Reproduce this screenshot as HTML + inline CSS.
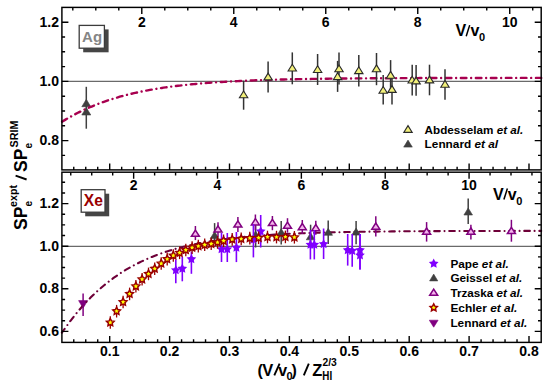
<!DOCTYPE html>
<html><head><meta charset="utf-8"><style>
html,body{margin:0;padding:0;background:#fff;width:550px;height:388px;overflow:hidden}
svg{display:block}
text{font-family:"Liberation Sans",sans-serif}
</style></head><body>
<svg width="550" height="388" viewBox="0 0 550 388"><line x1="61.9" y1="81.4" x2="541.2" y2="81.4" stroke="#6a6a6a" stroke-width="1.2"/>
<line x1="61.9" y1="246.4" x2="541.2" y2="246.4" stroke="#6a6a6a" stroke-width="1.2"/>
<path d="M86.3,99.3 L90.8,106.7 L81.8,106.7 Z" fill="#404040" stroke="#404040" stroke-width="0.6" stroke-linejoin="miter"/>
<path d="M86.3,107.6 L90.8,115 L81.8,115 Z" fill="#404040" stroke="#404040" stroke-width="0.6" stroke-linejoin="miter"/>
<path d="M83.1,308.2 L87.6,300.6 L78.6,300.6 Z" fill="#800080" stroke="#800080" stroke-width="0.6"/>
<path id="ctop" d="M61.9,121.76 C62.57,121.36 64.57,120.14 65.9,119.36 C67.23,118.58 68.57,117.81 69.9,117.07 C71.23,116.32 72.57,115.59 73.9,114.88 C75.23,114.17 76.57,113.48 77.9,112.8 C79.23,112.13 80.57,111.47 81.9,110.83 C83.23,110.2 84.57,109.58 85.9,108.97 C87.23,108.37 88.57,107.78 89.9,107.21 C91.23,106.63 92.57,106.08 93.9,105.54 C95.23,105 96.57,104.47 97.9,103.96 C99.23,103.45 100.57,102.96 101.9,102.47 C103.23,101.99 104.57,101.52 105.9,101.06 C107.23,100.61 108.57,100.17 109.9,99.74 C111.23,99.3 112.57,98.89 113.9,98.48 C115.23,98.07 116.57,97.68 117.9,97.3 C119.23,96.91 120.57,96.54 121.9,96.18 C123.23,95.82 124.57,95.46 125.9,95.12 C127.23,94.78 128.57,94.45 129.9,94.13 C131.23,93.81 132.57,93.49 133.9,93.19 C135.23,92.88 136.57,92.59 137.9,92.3 C139.23,92.02 140.57,91.74 141.9,91.47 C143.23,91.2 144.57,90.94 145.9,90.68 C147.23,90.43 148.57,90.18 149.9,89.94 C151.23,89.7 152.57,89.46 153.9,89.24 C155.23,89.01 156.57,88.79 157.9,88.58 C159.23,88.36 160.57,88.16 161.9,87.96 C163.23,87.75 164.57,87.56 165.9,87.37 C167.23,87.18 168.57,86.99 169.9,86.82 C171.23,86.64 172.57,86.46 173.9,86.29 C175.23,86.13 176.57,85.96 177.9,85.8 C179.23,85.64 180.57,85.49 181.9,85.34 C183.23,85.19 184.57,85.05 185.9,84.91 C187.23,84.76 188.57,84.63 189.9,84.49 C191.23,84.36 192.57,84.23 193.9,84.11 C195.23,83.98 196.57,83.86 197.9,83.74 C199.23,83.62 200.57,83.51 201.9,83.4 C203.23,83.29 204.57,83.18 205.9,83.08 C207.23,82.97 208.57,82.87 209.9,82.77 C211.23,82.67 212.57,82.58 213.9,82.48 C215.23,82.39 216.57,82.3 217.9,82.21 C219.23,82.13 220.57,82.04 221.9,81.96 C223.23,81.88 224.57,81.8 225.9,81.72 C227.23,81.64 228.57,81.57 229.9,81.49 C231.23,81.42 232.57,81.35 233.9,81.28 C235.23,81.21 236.57,81.14 237.9,81.08 C239.23,81.02 240.57,80.95 241.9,80.89 C243.23,80.83 244.57,80.77 245.9,80.71 C247.23,80.66 248.57,80.6 249.9,80.55 C251.23,80.49 252.57,80.44 253.9,80.39 C255.23,80.34 256.57,80.29 257.9,80.24 C259.23,80.19 260.57,80.15 261.9,80.1 C263.23,80.06 264.57,80.01 265.9,79.97 C267.23,79.93 268.57,79.89 269.9,79.85 C271.23,79.81 272.57,79.77 273.9,79.73 C275.23,79.69 276.57,79.66 277.9,79.62 C279.23,79.58 280.57,79.55 281.9,79.52 C283.23,79.48 284.57,79.45 285.9,79.42 C287.23,79.39 288.57,79.36 289.9,79.33 C291.23,79.3 292.57,79.27 293.9,79.24 C295.23,79.21 296.57,79.19 297.9,79.16 C299.23,79.13 300.57,79.11 301.9,79.08 C303.23,79.06 304.57,79.04 305.9,79.01 C307.23,78.99 308.57,78.97 309.9,78.95 C311.23,78.92 312.57,78.9 313.9,78.88 C315.23,78.86 316.57,78.84 317.9,78.82 C319.23,78.8 320.57,78.78 321.9,78.77 C323.23,78.75 324.57,78.73 325.9,78.71 C327.23,78.7 328.57,78.68 329.9,78.66 C331.23,78.65 332.57,78.63 333.9,78.62 C335.23,78.6 336.57,78.59 337.9,78.57 C339.23,78.56 340.57,78.54 341.9,78.53 C343.23,78.52 344.57,78.5 345.9,78.49 C347.23,78.48 348.57,78.47 349.9,78.45 C351.23,78.44 352.57,78.43 353.9,78.42 C355.23,78.41 356.57,78.4 357.9,78.39 C359.23,78.38 360.57,78.37 361.9,78.36 C363.23,78.35 364.57,78.34 365.9,78.33 C367.23,78.32 368.57,78.31 369.9,78.3 C371.23,78.29 372.57,78.28 373.9,78.28 C375.23,78.27 376.57,78.26 377.9,78.25 C379.23,78.24 380.57,78.24 381.9,78.23 C383.23,78.22 384.57,78.21 385.9,78.21 C387.23,78.2 388.57,78.19 389.9,78.19 C391.23,78.18 392.57,78.17 393.9,78.17 C395.23,78.16 396.57,78.16 397.9,78.15 C399.23,78.15 400.57,78.14 401.9,78.13 C403.23,78.13 404.57,78.12 405.9,78.12 C407.23,78.11 408.57,78.11 409.9,78.1 C411.23,78.1 412.57,78.09 413.9,78.09 C415.23,78.09 416.57,78.08 417.9,78.08 C419.23,78.07 420.57,78.07 421.9,78.06 C423.23,78.06 424.57,78.06 425.9,78.05 C427.23,78.05 428.57,78.05 429.9,78.04 C431.23,78.04 432.57,78.04 433.9,78.03 C435.23,78.03 436.57,78.03 437.9,78.02 C439.23,78.02 440.57,78.02 441.9,78.01 C443.23,78.01 444.57,78.01 445.9,78 C447.23,78 448.57,78 449.9,78 C451.23,77.99 452.57,77.99 453.9,77.99 C455.23,77.99 456.57,77.98 457.9,77.98 C459.23,77.98 460.57,77.98 461.9,77.98 C463.23,77.97 464.57,77.97 465.9,77.97 C467.23,77.97 468.57,77.97 469.9,77.96 C471.23,77.96 472.57,77.96 473.9,77.96 C475.23,77.96 476.57,77.95 477.9,77.95 C479.23,77.95 480.57,77.95 481.9,77.95 C483.23,77.95 484.57,77.94 485.9,77.94 C487.23,77.94 488.57,77.94 489.9,77.94 C491.23,77.94 492.57,77.94 493.9,77.93 C495.23,77.93 496.57,77.93 497.9,77.93 C499.23,77.93 500.57,77.93 501.9,77.93 C503.23,77.93 504.57,77.93 505.9,77.92 C507.23,77.92 508.57,77.92 509.9,77.92 C511.23,77.92 512.57,77.92 513.9,77.92 C515.23,77.92 516.57,77.92 517.9,77.92 C519.23,77.91 520.57,77.91 521.9,77.91 C523.23,77.91 524.57,77.91 525.9,77.91 C527.23,77.91 528.57,77.91 529.9,77.91 C531.23,77.91 532.57,77.91 533.9,77.91 C535.23,77.9 536.68,77.9 537.9,77.9 C539.12,77.9 540.65,77.9 541.2,77.9" fill="none" stroke="#a8004f" stroke-width="2.4" stroke-linecap="round" stroke-dasharray="5.6 4.7 0.01 4.7" stroke-dashoffset="14.65"/>
<path id="cbot" d="M61.9,332.65 C62.4,331.94 63.9,329.82 64.9,328.43 C65.9,327.05 66.9,325.67 67.9,324.32 C68.9,322.97 69.9,321.64 70.9,320.33 C71.9,319.02 72.9,317.74 73.9,316.48 C74.9,315.22 75.9,313.99 76.9,312.78 C77.9,311.56 78.9,310.38 79.9,309.21 C80.9,308.05 81.9,306.91 82.9,305.79 C83.9,304.67 84.9,303.57 85.9,302.5 C86.9,301.43 87.9,300.38 88.9,299.35 C89.9,298.32 90.9,297.31 91.9,296.32 C92.9,295.34 93.9,294.37 94.9,293.43 C95.9,292.48 96.9,291.56 97.9,290.65 C98.9,289.74 99.9,288.86 100.9,287.99 C101.9,287.12 102.9,286.27 103.9,285.44 C104.9,284.61 105.9,283.8 106.9,283.01 C107.9,282.21 108.9,281.43 109.9,280.67 C110.9,279.91 111.9,279.17 112.9,278.44 C113.9,277.71 114.9,277 115.9,276.3 C116.9,275.61 117.9,274.93 118.9,274.26 C119.9,273.59 120.9,272.94 121.9,272.3 C122.9,271.67 123.9,271.04 124.9,270.44 C125.9,269.83 126.9,269.23 127.9,268.65 C128.9,268.07 129.9,267.5 130.9,266.94 C131.9,266.38 132.9,265.84 133.9,265.31 C134.9,264.77 135.9,264.25 136.9,263.74 C137.9,263.24 138.9,262.74 139.9,262.25 C140.9,261.77 141.9,261.29 142.9,260.83 C143.9,260.36 144.9,259.91 145.9,259.46 C146.9,259.02 147.9,258.59 148.9,258.16 C149.9,257.74 150.9,257.32 151.9,256.92 C152.9,256.51 153.9,256.12 154.9,255.73 C155.9,255.34 156.9,254.96 157.9,254.59 C158.9,254.22 159.9,253.86 160.9,253.51 C161.9,253.15 162.9,252.81 163.9,252.47 C164.9,252.13 165.9,251.8 166.9,251.48 C167.9,251.16 168.9,250.85 169.9,250.54 C170.9,250.23 171.9,249.93 172.9,249.64 C173.9,249.34 174.9,249.05 175.9,248.77 C176.9,248.49 177.9,248.22 178.9,247.95 C179.9,247.68 180.9,247.42 181.9,247.17 C182.9,246.91 183.9,246.66 184.9,246.42 C185.9,246.17 186.9,245.93 187.9,245.7 C188.9,245.47 189.9,245.24 190.9,245.02 C191.9,244.79 192.9,244.58 193.9,244.36 C194.9,244.15 195.9,243.94 196.9,243.74 C197.9,243.54 198.9,243.34 199.9,243.15 C200.9,242.95 201.9,242.76 202.9,242.58 C203.9,242.39 204.9,242.21 205.9,242.04 C206.9,241.86 207.9,241.69 208.9,241.52 C209.9,241.35 210.9,241.19 211.9,241.03 C212.9,240.87 213.9,240.71 214.9,240.56 C215.9,240.4 216.9,240.25 217.9,240.11 C218.9,239.96 219.9,239.82 220.9,239.68 C221.9,239.54 222.9,239.4 223.9,239.27 C224.9,239.13 225.9,239 226.9,238.88 C227.9,238.75 228.9,238.63 229.9,238.51 C230.9,238.38 231.9,238.27 232.9,238.15 C233.9,238.03 234.9,237.92 235.9,237.81 C236.9,237.7 237.9,237.59 238.9,237.49 C239.9,237.38 240.9,237.28 241.9,237.18 C242.9,237.08 243.9,236.98 244.9,236.88 C245.9,236.79 246.9,236.7 247.9,236.6 C248.9,236.51 249.9,236.42 250.9,236.34 C251.9,236.25 252.9,236.16 253.9,236.08 C254.9,236 255.9,235.92 256.9,235.84 C257.9,235.76 258.9,235.68 259.9,235.6 C260.9,235.53 261.9,235.45 262.9,235.38 C263.9,235.31 264.9,235.24 265.9,235.17 C266.9,235.1 267.9,235.03 268.9,234.97 C269.9,234.9 270.9,234.84 271.9,234.78 C272.9,234.71 273.9,234.65 274.9,234.59 C275.9,234.53 276.9,234.48 277.9,234.42 C278.9,234.36 279.9,234.31 280.9,234.25 C281.9,234.2 282.9,234.14 283.9,234.09 C284.9,234.04 285.9,233.99 286.9,233.94 C287.9,233.89 288.9,233.84 289.9,233.8 C290.9,233.75 291.9,233.7 292.9,233.66 C293.9,233.61 294.9,233.57 295.9,233.53 C296.9,233.48 297.9,233.44 298.9,233.4 C299.9,233.36 300.9,233.32 301.9,233.28 C302.9,233.24 303.9,233.2 304.9,233.17 C305.9,233.13 306.9,233.09 307.9,233.06 C308.9,233.02 309.9,232.99 310.9,232.95 C311.9,232.92 312.9,232.89 313.9,232.86 C314.9,232.82 315.9,232.79 316.9,232.76 C317.9,232.73 318.9,232.7 319.9,232.67 C320.9,232.64 321.9,232.61 322.9,232.59 C323.9,232.56 324.9,232.53 325.9,232.5 C326.9,232.48 327.9,232.45 328.9,232.43 C329.9,232.4 330.9,232.38 331.9,232.35 C332.9,232.33 333.9,232.3 334.9,232.28 C335.9,232.26 336.9,232.24 337.9,232.21 C338.9,232.19 339.9,232.17 340.9,232.15 C341.9,232.13 342.9,232.11 343.9,232.09 C344.9,232.07 345.9,232.05 346.9,232.03 C347.9,232.01 348.9,231.99 349.9,231.97 C350.9,231.96 351.9,231.94 352.9,231.92 C353.9,231.9 354.9,231.89 355.9,231.87 C356.9,231.85 357.9,231.84 358.9,231.82 C359.9,231.81 360.9,231.79 361.9,231.78 C362.9,231.76 363.9,231.75 364.9,231.73 C365.9,231.72 366.9,231.7 367.9,231.69 C368.9,231.68 369.9,231.66 370.9,231.65 C371.9,231.64 372.9,231.62 373.9,231.61 C374.9,231.6 375.9,231.59 376.9,231.58 C377.9,231.56 378.9,231.55 379.9,231.54 C380.9,231.53 381.9,231.52 382.9,231.51 C383.9,231.5 384.9,231.49 385.9,231.48 C386.9,231.47 387.9,231.46 388.9,231.45 C389.9,231.44 390.9,231.43 391.9,231.42 C392.9,231.41 393.9,231.4 394.9,231.39 C395.9,231.38 396.9,231.38 397.9,231.37 C398.9,231.36 399.9,231.35 400.9,231.34 C401.9,231.33 402.9,231.33 403.9,231.32 C404.9,231.31 405.9,231.3 406.9,231.3 C407.9,231.29 408.9,231.28 409.9,231.28 C410.9,231.27 411.9,231.26 412.9,231.25 C413.9,231.25 414.9,231.24 415.9,231.24 C416.9,231.23 417.9,231.22 418.9,231.22 C419.9,231.21 420.9,231.21 421.9,231.2 C422.9,231.19 423.9,231.19 424.9,231.18 C425.9,231.18 426.9,231.17 427.9,231.17 C428.9,231.16 429.9,231.16 430.9,231.15 C431.9,231.15 432.9,231.14 433.9,231.14 C434.9,231.13 435.9,231.13 436.9,231.12 C437.9,231.12 438.9,231.11 439.9,231.11 C440.9,231.11 441.9,231.1 442.9,231.1 C443.9,231.09 444.9,231.09 445.9,231.09 C446.9,231.08 447.9,231.08 448.9,231.07 C449.9,231.07 450.9,231.07 451.9,231.06 C452.9,231.06 453.9,231.06 454.9,231.05 C455.9,231.05 456.9,231.05 457.9,231.04 C458.9,231.04 459.9,231.04 460.9,231.03 C461.9,231.03 462.9,231.03 463.9,231.03 C464.9,231.02 465.9,231.02 466.9,231.02 C467.9,231.01 468.9,231.01 469.9,231.01 C470.9,231.01 471.9,231 472.9,231 C473.9,231 474.9,231 475.9,230.99 C476.9,230.99 477.9,230.99 478.9,230.99 C479.9,230.98 480.9,230.98 481.9,230.98 C482.9,230.98 483.9,230.98 484.9,230.97 C485.9,230.97 486.9,230.97 487.9,230.97 C488.9,230.97 489.9,230.96 490.9,230.96 C491.9,230.96 492.9,230.96 493.9,230.96 C494.9,230.95 495.9,230.95 496.9,230.95 C497.9,230.95 498.9,230.95 499.9,230.95 C500.9,230.94 501.9,230.94 502.9,230.94 C503.9,230.94 504.9,230.94 505.9,230.94 C506.9,230.94 507.9,230.93 508.9,230.93 C509.9,230.93 510.9,230.93 511.9,230.93 C512.9,230.93 513.9,230.93 514.9,230.92 C515.9,230.92 516.9,230.92 517.9,230.92 C518.9,230.92 519.9,230.92 520.9,230.92 C521.9,230.92 522.9,230.92 523.9,230.91 C524.9,230.91 525.9,230.91 526.9,230.91 C527.9,230.91 528.9,230.91 529.9,230.91 C530.9,230.91 531.9,230.91 532.9,230.9 C533.9,230.9 534.9,230.9 535.9,230.9 C536.9,230.9 538.02,230.9 538.9,230.9 C539.78,230.9 540.82,230.9 541.2,230.9" fill="none" stroke="#6e0038" stroke-width="2.1" stroke-linecap="round" stroke-dasharray="5.6 4.7 0.01 4.7" stroke-dashoffset="0.9"/>
<line x1="86.3" y1="86.8" x2="86.3" y2="128.7" stroke="#404040" stroke-width="1.5"/>
<line x1="83.1" y1="293.5" x2="83.1" y2="316" stroke="#800080" stroke-width="1.5"/>
<line x1="243.6" y1="80.6" x2="243.6" y2="109.7" stroke="#333" stroke-width="1.5"/>
<line x1="268.1" y1="61.6" x2="268.1" y2="92.6" stroke="#333" stroke-width="1.5"/>
<line x1="292.3" y1="52.4" x2="292.3" y2="84.3" stroke="#333" stroke-width="1.5"/>
<line x1="317.6" y1="54" x2="317.6" y2="85" stroke="#333" stroke-width="1.5"/>
<line x1="337.6" y1="60.9" x2="337.6" y2="91.9" stroke="#333" stroke-width="1.5"/>
<line x1="339" y1="52.5" x2="339" y2="84.4" stroke="#333" stroke-width="1.5"/>
<line x1="358.8" y1="55" x2="358.8" y2="86.5" stroke="#333" stroke-width="1.5"/>
<line x1="376.5" y1="53" x2="376.5" y2="85.2" stroke="#333" stroke-width="1.5"/>
<line x1="383.2" y1="75.1" x2="383.2" y2="104.6" stroke="#333" stroke-width="1.5"/>
<line x1="390.6" y1="60.1" x2="390.6" y2="89.5" stroke="#333" stroke-width="1.5"/>
<line x1="392" y1="75" x2="392" y2="104.5" stroke="#333" stroke-width="1.5"/>
<line x1="412.2" y1="64.7" x2="412.2" y2="95.5" stroke="#333" stroke-width="1.5"/>
<line x1="416.1" y1="65" x2="416.1" y2="95.7" stroke="#333" stroke-width="1.5"/>
<line x1="429.5" y1="64.7" x2="429.5" y2="95.3" stroke="#333" stroke-width="1.5"/>
<line x1="445" y1="69.3" x2="445" y2="99.8" stroke="#333" stroke-width="1.5"/>
<path d="M243.6,91 L247.8,97.8 L239.4,97.8 Z" fill="#f2f07a" stroke="#2a2a2a" stroke-width="1.1" stroke-linejoin="miter"/>
<path d="M268.1,73.1 L272.3,79.9 L263.9,79.9 Z" fill="#f2f07a" stroke="#2a2a2a" stroke-width="1.1" stroke-linejoin="miter"/>
<path d="M292.3,64.2 L296.5,71 L288.1,71 Z" fill="#f2f07a" stroke="#2a2a2a" stroke-width="1.1" stroke-linejoin="miter"/>
<path d="M317.6,65.7 L321.8,72.5 L313.4,72.5 Z" fill="#f2f07a" stroke="#2a2a2a" stroke-width="1.1" stroke-linejoin="miter"/>
<path d="M337.6,72.8 L341.8,79.6 L333.4,79.6 Z" fill="#f2f07a" stroke="#2a2a2a" stroke-width="1.1" stroke-linejoin="miter"/>
<path d="M339,65 L343.2,71.8 L334.8,71.8 Z" fill="#f2f07a" stroke="#2a2a2a" stroke-width="1.1" stroke-linejoin="miter"/>
<path d="M358.8,66.8 L363,73.6 L354.6,73.6 Z" fill="#f2f07a" stroke="#2a2a2a" stroke-width="1.1" stroke-linejoin="miter"/>
<path d="M376.5,64.9 L380.7,71.7 L372.3,71.7 Z" fill="#f2f07a" stroke="#2a2a2a" stroke-width="1.1" stroke-linejoin="miter"/>
<path d="M383.2,86.5 L387.4,93.3 L379,93.3 Z" fill="#f2f07a" stroke="#2a2a2a" stroke-width="1.1" stroke-linejoin="miter"/>
<path d="M390.6,71.4 L394.8,78.2 L386.4,78.2 Z" fill="#f2f07a" stroke="#2a2a2a" stroke-width="1.1" stroke-linejoin="miter"/>
<path d="M392,85.6 L396.2,92.4 L387.8,92.4 Z" fill="#f2f07a" stroke="#2a2a2a" stroke-width="1.1" stroke-linejoin="miter"/>
<path d="M412.2,76.2 L416.4,83 L408,83 Z" fill="#f2f07a" stroke="#2a2a2a" stroke-width="1.1" stroke-linejoin="miter"/>
<path d="M416.1,77.1 L420.3,83.9 L411.9,83.9 Z" fill="#f2f07a" stroke="#2a2a2a" stroke-width="1.1" stroke-linejoin="miter"/>
<path d="M429.5,76.1 L433.7,82.9 L425.3,82.9 Z" fill="#f2f07a" stroke="#2a2a2a" stroke-width="1.1" stroke-linejoin="miter"/>
<path d="M445,80.5 L449.2,87.3 L440.8,87.3 Z" fill="#f2f07a" stroke="#2a2a2a" stroke-width="1.1" stroke-linejoin="miter"/>
<line x1="214.6" y1="223.1" x2="214.6" y2="243" stroke="#404040" stroke-width="1.5"/>
<path d="M214.6,231.5 L218.9,238.5 L210.3,238.5 Z" fill="#404040" stroke="#404040" stroke-width="0.6" stroke-linejoin="miter"/>
<line x1="255.6" y1="225.5" x2="255.6" y2="247.5" stroke="#404040" stroke-width="1.5"/>
<path d="M255.6,231 L259.9,238 L251.3,238 Z" fill="#404040" stroke="#404040" stroke-width="0.6" stroke-linejoin="miter"/>
<line x1="281.2" y1="221.1" x2="281.2" y2="244.4" stroke="#404040" stroke-width="1.5"/>
<path d="M281.2,228.6 L285.5,235.6 L276.9,235.6 Z" fill="#404040" stroke="#404040" stroke-width="0.6" stroke-linejoin="miter"/>
<line x1="310.6" y1="224.7" x2="310.6" y2="242.4" stroke="#404040" stroke-width="1.5"/>
<path d="M310.6,232.8 L314.9,239.8 L306.3,239.8 Z" fill="#404040" stroke="#404040" stroke-width="0.6" stroke-linejoin="miter"/>
<line x1="328.2" y1="220.6" x2="328.2" y2="244" stroke="#404040" stroke-width="1.5"/>
<path d="M328.2,228.3 L332.5,235.3 L323.9,235.3 Z" fill="#404040" stroke="#404040" stroke-width="0.6" stroke-linejoin="miter"/>
<line x1="356.1" y1="220.9" x2="356.1" y2="244.3" stroke="#404040" stroke-width="1.5"/>
<path d="M356.1,228.1 L360.4,235.1 L351.8,235.1 Z" fill="#404040" stroke="#404040" stroke-width="0.6" stroke-linejoin="miter"/>
<line x1="468.2" y1="198.5" x2="468.2" y2="224" stroke="#404040" stroke-width="1.5"/>
<path d="M468.2,208 L472.5,215 L463.9,215 Z" fill="#404040" stroke="#404040" stroke-width="0.6" stroke-linejoin="miter"/>
<line x1="195.4" y1="226" x2="195.4" y2="240.1" stroke="#800080" stroke-width="1.5"/>
<path d="M195.4,230.1 L199.4,236.3 L191.4,236.3 Z" fill="#f4b4ec" stroke="#800080" stroke-width="1.5" stroke-linejoin="miter"/>
<line x1="218" y1="222.2" x2="218" y2="237" stroke="#800080" stroke-width="1.5"/>
<path d="M218,225.9 L222,232.1 L214,232.1 Z" fill="#f4b4ec" stroke="#800080" stroke-width="1.5" stroke-linejoin="miter"/>
<line x1="237.9" y1="217" x2="237.9" y2="232" stroke="#800080" stroke-width="1.5"/>
<path d="M237.9,220.9 L241.9,227.1 L233.9,227.1 Z" fill="#f4b4ec" stroke="#800080" stroke-width="1.5" stroke-linejoin="miter"/>
<line x1="255.4" y1="214.5" x2="255.4" y2="230" stroke="#800080" stroke-width="1.5"/>
<path d="M255.4,218.7 L259.4,224.9 L251.4,224.9 Z" fill="#f4b4ec" stroke="#800080" stroke-width="1.5" stroke-linejoin="miter"/>
<line x1="272.4" y1="216" x2="272.4" y2="230.2" stroke="#800080" stroke-width="1.5"/>
<path d="M272.4,219.4 L276.4,225.6 L268.4,225.6 Z" fill="#f4b4ec" stroke="#800080" stroke-width="1.5" stroke-linejoin="miter"/>
<line x1="287.5" y1="218.2" x2="287.5" y2="232.7" stroke="#800080" stroke-width="1.5"/>
<path d="M287.5,222.1 L291.5,228.3 L283.5,228.3 Z" fill="#f4b4ec" stroke="#800080" stroke-width="1.5" stroke-linejoin="miter"/>
<line x1="302.3" y1="220" x2="302.3" y2="234" stroke="#800080" stroke-width="1.5"/>
<path d="M302.3,223.5 L306.3,229.7 L298.3,229.7 Z" fill="#f4b4ec" stroke="#800080" stroke-width="1.5" stroke-linejoin="miter"/>
<line x1="315.8" y1="220.8" x2="315.8" y2="234.7" stroke="#800080" stroke-width="1.5"/>
<path d="M315.8,224.5 L319.8,230.7 L311.8,230.7 Z" fill="#f4b4ec" stroke="#800080" stroke-width="1.5" stroke-linejoin="miter"/>
<line x1="375.8" y1="216.3" x2="375.8" y2="236.4" stroke="#800080" stroke-width="1.5"/>
<path d="M375.8,223 L379.8,229.2 L371.8,229.2 Z" fill="#f4b4ec" stroke="#800080" stroke-width="1.5" stroke-linejoin="miter"/>
<line x1="426.6" y1="222.1" x2="426.6" y2="241.6" stroke="#800080" stroke-width="1.5"/>
<path d="M426.6,228 L430.6,234.2 L422.6,234.2 Z" fill="#f4b4ec" stroke="#800080" stroke-width="1.5" stroke-linejoin="miter"/>
<line x1="470.9" y1="224.7" x2="470.9" y2="239.6" stroke="#800080" stroke-width="1.5"/>
<path d="M470.9,228 L474.9,234.2 L466.9,234.2 Z" fill="#f4b4ec" stroke="#800080" stroke-width="1.5" stroke-linejoin="miter"/>
<line x1="511.4" y1="219.8" x2="511.4" y2="241.7" stroke="#800080" stroke-width="1.5"/>
<path d="M511.4,227.3 L515.4,233.5 L507.4,233.5 Z" fill="#f4b4ec" stroke="#800080" stroke-width="1.5" stroke-linejoin="miter"/>
<line x1="175.8" y1="259.4" x2="175.8" y2="283.2" stroke="#8000ff" stroke-width="1.6"/>
<line x1="182.3" y1="256.8" x2="182.3" y2="281.3" stroke="#8000ff" stroke-width="1.6"/>
<line x1="191.4" y1="251.6" x2="191.4" y2="273.8" stroke="#8000ff" stroke-width="1.6"/>
<line x1="221.5" y1="233" x2="221.5" y2="262" stroke="#8000ff" stroke-width="1.6"/>
<line x1="227.3" y1="233" x2="227.3" y2="262" stroke="#8000ff" stroke-width="1.6"/>
<line x1="236.4" y1="232" x2="236.4" y2="262.1" stroke="#8000ff" stroke-width="1.6"/>
<line x1="253.4" y1="224.2" x2="253.4" y2="257.4" stroke="#8000ff" stroke-width="1.6"/>
<line x1="260.7" y1="215" x2="260.7" y2="247.5" stroke="#8000ff" stroke-width="1.6"/>
<line x1="310.4" y1="230" x2="310.4" y2="259.4" stroke="#8000ff" stroke-width="1.6"/>
<line x1="314.3" y1="230" x2="314.3" y2="259.4" stroke="#8000ff" stroke-width="1.6"/>
<line x1="323.6" y1="228.5" x2="323.6" y2="259" stroke="#8000ff" stroke-width="1.6"/>
<line x1="347.7" y1="234" x2="347.7" y2="265.6" stroke="#8000ff" stroke-width="1.6"/>
<line x1="352.2" y1="234" x2="352.2" y2="266.8" stroke="#8000ff" stroke-width="1.6"/>
<line x1="360" y1="234" x2="360" y2="269.4" stroke="#8000ff" stroke-width="1.6"/>
<line x1="360" y1="234" x2="360" y2="269.4" stroke="#8000ff" stroke-width="1.6"/>
<path d="M175.8,265.1 L177.3,268.14 L180.65,268.62 L178.23,270.99 L178.8,274.33 L175.8,272.75 L172.8,274.33 L173.37,270.99 L170.95,268.62 L174.3,268.14 Z" fill="#8000ff"/>
<path d="M182.3,263.5 L183.8,266.54 L187.15,267.02 L184.73,269.39 L185.3,272.73 L182.3,271.15 L179.3,272.73 L179.87,269.39 L177.45,267.02 L180.8,266.54 Z" fill="#8000ff"/>
<path d="M191.4,254 L192.9,257.04 L196.25,257.52 L193.83,259.89 L194.4,263.23 L191.4,261.65 L188.4,263.23 L188.97,259.89 L186.55,257.52 L189.9,257.04 Z" fill="#8000ff"/>
<path d="M221.5,244.1 L223,247.14 L226.35,247.62 L223.93,249.99 L224.5,253.33 L221.5,251.75 L218.5,253.33 L219.07,249.99 L216.65,247.62 L220,247.14 Z" fill="#8000ff"/>
<path d="M227.3,244.1 L228.8,247.14 L232.15,247.62 L229.73,249.99 L230.3,253.33 L227.3,251.75 L224.3,253.33 L224.87,249.99 L222.45,247.62 L225.8,247.14 Z" fill="#8000ff"/>
<path d="M236.4,242.5 L237.9,245.54 L241.25,246.02 L238.83,248.39 L239.4,251.73 L236.4,250.15 L233.4,251.73 L233.97,248.39 L231.55,246.02 L234.9,245.54 Z" fill="#8000ff"/>
<path d="M253.4,234.4 L254.9,237.44 L258.25,237.92 L255.83,240.29 L256.4,243.63 L253.4,242.05 L250.4,243.63 L250.97,240.29 L248.55,237.92 L251.9,237.44 Z" fill="#8000ff"/>
<path d="M260.7,226.3 L262.2,229.34 L265.55,229.82 L263.13,232.19 L263.7,235.53 L260.7,233.95 L257.7,235.53 L258.27,232.19 L255.85,229.82 L259.2,229.34 Z" fill="#8000ff"/>
<path d="M310.4,239.6 L311.9,242.64 L315.25,243.12 L312.83,245.49 L313.4,248.83 L310.4,247.25 L307.4,248.83 L307.97,245.49 L305.55,243.12 L308.9,242.64 Z" fill="#8000ff"/>
<path d="M314.3,239.6 L315.8,242.64 L319.15,243.12 L316.73,245.49 L317.3,248.83 L314.3,247.25 L311.3,248.83 L311.87,245.49 L309.45,243.12 L312.8,242.64 Z" fill="#8000ff"/>
<path d="M323.6,238.9 L325.1,241.94 L328.45,242.42 L326.03,244.79 L326.6,248.13 L323.6,246.55 L320.6,248.13 L321.17,244.79 L318.75,242.42 L322.1,241.94 Z" fill="#8000ff"/>
<path d="M347.7,245 L349.2,248.04 L352.55,248.52 L350.13,250.89 L350.7,254.23 L347.7,252.65 L344.7,254.23 L345.27,250.89 L342.85,248.52 L346.2,248.04 Z" fill="#8000ff"/>
<path d="M352.2,245.7 L353.7,248.74 L357.05,249.22 L354.63,251.59 L355.2,254.93 L352.2,253.35 L349.2,254.93 L349.77,251.59 L347.35,249.22 L350.7,248.74 Z" fill="#8000ff"/>
<path d="M360,245 L361.5,248.04 L364.85,248.52 L362.43,250.89 L363,254.23 L360,252.65 L357,254.23 L357.57,250.89 L355.15,248.52 L358.5,248.04 Z" fill="#8000ff"/>
<path d="M360,250.2 L361.5,253.24 L364.85,253.72 L362.43,256.09 L363,259.43 L360,257.85 L357,259.43 L357.57,256.09 L355.15,253.72 L358.5,253.24 Z" fill="#8000ff"/>
<line x1="110.3" y1="316.2" x2="110.3" y2="328.8" stroke="#9a0000" stroke-width="1.3"/>
<line x1="116.6" y1="304.9" x2="116.6" y2="317.5" stroke="#9a0000" stroke-width="1.3"/>
<line x1="123.1" y1="295.7" x2="123.1" y2="308.3" stroke="#9a0000" stroke-width="1.3"/>
<line x1="129.6" y1="287.6" x2="129.6" y2="300.2" stroke="#9a0000" stroke-width="1.3"/>
<line x1="135.9" y1="280" x2="135.9" y2="292.6" stroke="#9a0000" stroke-width="1.3"/>
<line x1="142.1" y1="273" x2="142.1" y2="285.6" stroke="#9a0000" stroke-width="1.3"/>
<line x1="148.5" y1="267.6" x2="148.5" y2="280.2" stroke="#9a0000" stroke-width="1.3"/>
<line x1="154.7" y1="262.4" x2="154.7" y2="275" stroke="#9a0000" stroke-width="1.3"/>
<line x1="161.2" y1="257.2" x2="161.2" y2="269.8" stroke="#9a0000" stroke-width="1.3"/>
<line x1="167.2" y1="252.8" x2="167.2" y2="265.4" stroke="#9a0000" stroke-width="1.3"/>
<line x1="173.3" y1="249.2" x2="173.3" y2="261.8" stroke="#9a0000" stroke-width="1.3"/>
<line x1="179.6" y1="246.5" x2="179.6" y2="259.1" stroke="#9a0000" stroke-width="1.3"/>
<line x1="185.8" y1="243.7" x2="185.8" y2="256.3" stroke="#9a0000" stroke-width="1.3"/>
<line x1="192.1" y1="241.3" x2="192.1" y2="253.9" stroke="#9a0000" stroke-width="1.3"/>
<line x1="198.3" y1="239.8" x2="198.3" y2="252.4" stroke="#9a0000" stroke-width="1.3"/>
<line x1="204.7" y1="238.5" x2="204.7" y2="251.1" stroke="#9a0000" stroke-width="1.3"/>
<line x1="211.2" y1="237.5" x2="211.2" y2="250.1" stroke="#9a0000" stroke-width="1.3"/>
<line x1="217.5" y1="236.1" x2="217.5" y2="248.7" stroke="#9a0000" stroke-width="1.3"/>
<line x1="223.6" y1="234.5" x2="223.6" y2="247.1" stroke="#9a0000" stroke-width="1.3"/>
<line x1="232.2" y1="233.1" x2="232.2" y2="245.7" stroke="#9a0000" stroke-width="1.3"/>
<line x1="241.2" y1="232.6" x2="241.2" y2="245.2" stroke="#9a0000" stroke-width="1.3"/>
<line x1="249.8" y1="231.8" x2="249.8" y2="244.4" stroke="#9a0000" stroke-width="1.3"/>
<line x1="258.6" y1="231.5" x2="258.6" y2="244.1" stroke="#9a0000" stroke-width="1.3"/>
<line x1="267.5" y1="230.7" x2="267.5" y2="243.3" stroke="#9a0000" stroke-width="1.3"/>
<line x1="276.5" y1="230.8" x2="276.5" y2="243.4" stroke="#9a0000" stroke-width="1.3"/>
<line x1="285.4" y1="230.6" x2="285.4" y2="243.2" stroke="#9a0000" stroke-width="1.3"/>
<line x1="294.4" y1="231" x2="294.4" y2="243.6" stroke="#9a0000" stroke-width="1.3"/>
<path d="M110.3,318.5 L111.48,320.88 L114.1,321.26 L112.2,323.12 L112.65,325.74 L110.3,324.5 L107.95,325.74 L108.4,323.12 L106.5,321.26 L109.12,320.88 Z" fill="#ffff00" stroke="#9a0000" stroke-width="1.5" stroke-linejoin="miter"/>
<path d="M116.6,307.2 L117.78,309.58 L120.4,309.96 L118.5,311.82 L118.95,314.44 L116.6,313.2 L114.25,314.44 L114.7,311.82 L112.8,309.96 L115.42,309.58 Z" fill="#ffff00" stroke="#9a0000" stroke-width="1.5" stroke-linejoin="miter"/>
<path d="M123.1,298 L124.28,300.38 L126.9,300.76 L125,302.62 L125.45,305.24 L123.1,304 L120.75,305.24 L121.2,302.62 L119.3,300.76 L121.92,300.38 Z" fill="#ffff00" stroke="#9a0000" stroke-width="1.5" stroke-linejoin="miter"/>
<path d="M129.6,289.9 L130.78,292.28 L133.4,292.66 L131.5,294.52 L131.95,297.14 L129.6,295.9 L127.25,297.14 L127.7,294.52 L125.8,292.66 L128.42,292.28 Z" fill="#ffff00" stroke="#9a0000" stroke-width="1.5" stroke-linejoin="miter"/>
<path d="M135.9,282.3 L137.08,284.68 L139.7,285.06 L137.8,286.92 L138.25,289.54 L135.9,288.3 L133.55,289.54 L134,286.92 L132.1,285.06 L134.72,284.68 Z" fill="#ffff00" stroke="#9a0000" stroke-width="1.5" stroke-linejoin="miter"/>
<path d="M142.1,275.3 L143.28,277.68 L145.9,278.06 L144,279.92 L144.45,282.54 L142.1,281.3 L139.75,282.54 L140.2,279.92 L138.3,278.06 L140.92,277.68 Z" fill="#ffff00" stroke="#9a0000" stroke-width="1.5" stroke-linejoin="miter"/>
<path d="M148.5,269.9 L149.68,272.28 L152.3,272.66 L150.4,274.52 L150.85,277.14 L148.5,275.9 L146.15,277.14 L146.6,274.52 L144.7,272.66 L147.32,272.28 Z" fill="#ffff00" stroke="#9a0000" stroke-width="1.5" stroke-linejoin="miter"/>
<path d="M154.7,264.7 L155.88,267.08 L158.5,267.46 L156.6,269.32 L157.05,271.94 L154.7,270.7 L152.35,271.94 L152.8,269.32 L150.9,267.46 L153.52,267.08 Z" fill="#ffff00" stroke="#9a0000" stroke-width="1.5" stroke-linejoin="miter"/>
<path d="M161.2,259.5 L162.38,261.88 L165,262.26 L163.1,264.12 L163.55,266.74 L161.2,265.5 L158.85,266.74 L159.3,264.12 L157.4,262.26 L160.02,261.88 Z" fill="#ffff00" stroke="#9a0000" stroke-width="1.5" stroke-linejoin="miter"/>
<path d="M167.2,255.1 L168.38,257.48 L171,257.86 L169.1,259.72 L169.55,262.34 L167.2,261.1 L164.85,262.34 L165.3,259.72 L163.4,257.86 L166.02,257.48 Z" fill="#ffff00" stroke="#9a0000" stroke-width="1.5" stroke-linejoin="miter"/>
<path d="M173.3,251.5 L174.48,253.88 L177.1,254.26 L175.2,256.12 L175.65,258.74 L173.3,257.5 L170.95,258.74 L171.4,256.12 L169.5,254.26 L172.12,253.88 Z" fill="#ffff00" stroke="#9a0000" stroke-width="1.5" stroke-linejoin="miter"/>
<path d="M179.6,248.8 L180.78,251.18 L183.4,251.56 L181.5,253.42 L181.95,256.04 L179.6,254.8 L177.25,256.04 L177.7,253.42 L175.8,251.56 L178.42,251.18 Z" fill="#ffff00" stroke="#9a0000" stroke-width="1.5" stroke-linejoin="miter"/>
<path d="M185.8,246 L186.98,248.38 L189.6,248.76 L187.7,250.62 L188.15,253.24 L185.8,252 L183.45,253.24 L183.9,250.62 L182,248.76 L184.62,248.38 Z" fill="#ffff00" stroke="#9a0000" stroke-width="1.5" stroke-linejoin="miter"/>
<path d="M192.1,243.6 L193.28,245.98 L195.9,246.36 L194,248.22 L194.45,250.84 L192.1,249.6 L189.75,250.84 L190.2,248.22 L188.3,246.36 L190.92,245.98 Z" fill="#ffff00" stroke="#9a0000" stroke-width="1.5" stroke-linejoin="miter"/>
<path d="M198.3,242.1 L199.48,244.48 L202.1,244.86 L200.2,246.72 L200.65,249.34 L198.3,248.1 L195.95,249.34 L196.4,246.72 L194.5,244.86 L197.12,244.48 Z" fill="#ffff00" stroke="#9a0000" stroke-width="1.5" stroke-linejoin="miter"/>
<path d="M204.7,240.8 L205.88,243.18 L208.5,243.56 L206.6,245.42 L207.05,248.04 L204.7,246.8 L202.35,248.04 L202.8,245.42 L200.9,243.56 L203.52,243.18 Z" fill="#ffff00" stroke="#9a0000" stroke-width="1.5" stroke-linejoin="miter"/>
<path d="M211.2,239.8 L212.38,242.18 L215,242.56 L213.1,244.42 L213.55,247.04 L211.2,245.8 L208.85,247.04 L209.3,244.42 L207.4,242.56 L210.02,242.18 Z" fill="#ffff00" stroke="#9a0000" stroke-width="1.5" stroke-linejoin="miter"/>
<path d="M217.5,238.4 L218.68,240.78 L221.3,241.16 L219.4,243.02 L219.85,245.64 L217.5,244.4 L215.15,245.64 L215.6,243.02 L213.7,241.16 L216.32,240.78 Z" fill="#ffff00" stroke="#9a0000" stroke-width="1.5" stroke-linejoin="miter"/>
<path d="M223.6,236.8 L224.78,239.18 L227.4,239.56 L225.5,241.42 L225.95,244.04 L223.6,242.8 L221.25,244.04 L221.7,241.42 L219.8,239.56 L222.42,239.18 Z" fill="#ffff00" stroke="#9a0000" stroke-width="1.5" stroke-linejoin="miter"/>
<path d="M232.2,235.4 L233.38,237.78 L236,238.16 L234.1,240.02 L234.55,242.64 L232.2,241.4 L229.85,242.64 L230.3,240.02 L228.4,238.16 L231.02,237.78 Z" fill="#ffff00" stroke="#9a0000" stroke-width="1.5" stroke-linejoin="miter"/>
<path d="M241.2,234.9 L242.38,237.28 L245,237.66 L243.1,239.52 L243.55,242.14 L241.2,240.9 L238.85,242.14 L239.3,239.52 L237.4,237.66 L240.02,237.28 Z" fill="#ffff00" stroke="#9a0000" stroke-width="1.5" stroke-linejoin="miter"/>
<path d="M249.8,234.1 L250.98,236.48 L253.6,236.86 L251.7,238.72 L252.15,241.34 L249.8,240.1 L247.45,241.34 L247.9,238.72 L246,236.86 L248.62,236.48 Z" fill="#ffff00" stroke="#9a0000" stroke-width="1.5" stroke-linejoin="miter"/>
<path d="M258.6,233.8 L259.78,236.18 L262.4,236.56 L260.5,238.42 L260.95,241.04 L258.6,239.8 L256.25,241.04 L256.7,238.42 L254.8,236.56 L257.42,236.18 Z" fill="#ffff00" stroke="#9a0000" stroke-width="1.5" stroke-linejoin="miter"/>
<path d="M267.5,233 L268.68,235.38 L271.3,235.76 L269.4,237.62 L269.85,240.24 L267.5,239 L265.15,240.24 L265.6,237.62 L263.7,235.76 L266.32,235.38 Z" fill="#ffff00" stroke="#9a0000" stroke-width="1.5" stroke-linejoin="miter"/>
<path d="M276.5,233.1 L277.68,235.48 L280.3,235.86 L278.4,237.72 L278.85,240.34 L276.5,239.1 L274.15,240.34 L274.6,237.72 L272.7,235.86 L275.32,235.48 Z" fill="#ffff00" stroke="#9a0000" stroke-width="1.5" stroke-linejoin="miter"/>
<path d="M285.4,232.9 L286.58,235.28 L289.2,235.66 L287.3,237.52 L287.75,240.14 L285.4,238.9 L283.05,240.14 L283.5,237.52 L281.6,235.66 L284.22,235.28 Z" fill="#ffff00" stroke="#9a0000" stroke-width="1.5" stroke-linejoin="miter"/>
<path d="M294.4,233.3 L295.58,235.68 L298.2,236.06 L296.3,237.92 L296.75,240.54 L294.4,239.3 L292.05,240.54 L292.5,237.92 L290.6,236.06 L293.22,235.68 Z" fill="#ffff00" stroke="#9a0000" stroke-width="1.5" stroke-linejoin="miter"/>
<path d="M61.9,155.4h3.2M541.2,155.4h-3.2M61.9,140.6h6.5M541.2,140.6h-6.5M61.9,125.8h3.2M541.2,125.8h-3.2M61.9,111h3.2M541.2,111h-3.2M61.9,96.2h3.2M541.2,96.2h-3.2M61.9,81.4h6.5M541.2,81.4h-6.5M61.9,66.6h3.2M541.2,66.6h-3.2M61.9,51.8h3.2M541.2,51.8h-3.2M61.9,37h3.2M541.2,37h-3.2M61.9,22.2h6.5M541.2,22.2h-6.5M61.9,331.4h6.5M541.2,331.4h-6.5M61.9,320.75h3.2M541.2,320.75h-3.2M61.9,310.1h3.2M541.2,310.1h-3.2M61.9,299.45h3.2M541.2,299.45h-3.2M61.9,288.8h6.5M541.2,288.8h-6.5M61.9,278.15h3.2M541.2,278.15h-3.2M61.9,267.5h3.2M541.2,267.5h-3.2M61.9,256.85h3.2M541.2,256.85h-3.2M61.9,246.2h6.5M541.2,246.2h-6.5M61.9,235.55h3.2M541.2,235.55h-3.2M61.9,224.9h3.2M541.2,224.9h-3.2M61.9,214.25h3.2M541.2,214.25h-3.2M61.9,203.6h6.5M541.2,203.6h-6.5M61.9,192.95h3.2M541.2,192.95h-3.2M61.9,182.3h3.2M541.2,182.3h-3.2M72.8,7.4v3.2M95.79,7.4v3.2M118.79,7.4v3.2M141.79,7.4v6.5M164.78,7.4v3.2M187.78,7.4v3.2M210.78,7.4v3.2M233.77,7.4v6.5M256.77,7.4v3.2M279.77,7.4v3.2M302.76,7.4v3.2M325.76,7.4v6.5M348.76,7.4v3.2M371.75,7.4v3.2M394.75,7.4v3.2M417.75,7.4v6.5M440.74,7.4v3.2M463.74,7.4v3.2M486.74,7.4v3.2M509.73,7.4v6.5M532.73,7.4v3.2M70.76,172.2v3.2M91.73,172.2v3.2M112.69,172.2v3.2M133.65,172.2v6.5M154.62,172.2v3.2M175.58,172.2v3.2M196.55,172.2v3.2M217.51,172.2v6.5M238.47,172.2v3.2M259.44,172.2v3.2M280.4,172.2v3.2M301.36,172.2v6.5M322.33,172.2v3.2M343.29,172.2v3.2M364.26,172.2v3.2M385.22,172.2v6.5M406.18,172.2v3.2M427.15,172.2v3.2M448.11,172.2v3.2M469.07,172.2v6.5M490.04,172.2v3.2M511,172.2v3.2M531.96,172.2v3.2M73.76,169.9v-3.2M85.74,169.9v-3.2M97.72,169.9v-3.2M109.7,169.9v-6.5M121.68,169.9v-3.2M133.66,169.9v-3.2M145.64,169.9v-3.2M157.62,169.9v-3.2M169.6,169.9v-6.5M181.58,169.9v-3.2M193.56,169.9v-3.2M205.54,169.9v-3.2M217.52,169.9v-3.2M229.5,169.9v-6.5M241.48,169.9v-3.2M253.46,169.9v-3.2M265.44,169.9v-3.2M277.42,169.9v-3.2M289.4,169.9v-6.5M301.38,169.9v-3.2M313.36,169.9v-3.2M325.34,169.9v-3.2M337.32,169.9v-3.2M349.3,169.9v-6.5M361.28,169.9v-3.2M373.26,169.9v-3.2M385.24,169.9v-3.2M397.22,169.9v-3.2M409.2,169.9v-6.5M421.18,169.9v-3.2M433.16,169.9v-3.2M445.14,169.9v-3.2M457.12,169.9v-3.2M469.1,169.9v-6.5M481.08,169.9v-3.2M493.06,169.9v-3.2M505.04,169.9v-3.2M517.02,169.9v-3.2M529,169.9v-6.5M73.76,342.4v-3.2M85.74,342.4v-3.2M97.72,342.4v-3.2M109.7,342.4v-6.5M121.68,342.4v-3.2M133.66,342.4v-3.2M145.64,342.4v-3.2M157.62,342.4v-3.2M169.6,342.4v-6.5M181.58,342.4v-3.2M193.56,342.4v-3.2M205.54,342.4v-3.2M217.52,342.4v-3.2M229.5,342.4v-6.5M241.48,342.4v-3.2M253.46,342.4v-3.2M265.44,342.4v-3.2M277.42,342.4v-3.2M289.4,342.4v-6.5M301.38,342.4v-3.2M313.36,342.4v-3.2M325.34,342.4v-3.2M337.32,342.4v-3.2M349.3,342.4v-6.5M361.28,342.4v-3.2M373.26,342.4v-3.2M385.24,342.4v-3.2M397.22,342.4v-3.2M409.2,342.4v-6.5M421.18,342.4v-3.2M433.16,342.4v-3.2M445.14,342.4v-3.2M457.12,342.4v-3.2M469.1,342.4v-6.5M481.08,342.4v-3.2M493.06,342.4v-3.2M505.04,342.4v-3.2M517.02,342.4v-3.2M529,342.4v-6.5" stroke="#000" stroke-width="1.4" fill="none"/>
<rect x="61.9" y="7.4" width="479.3" height="162.5" fill="none" stroke="#000" stroke-width="1.45"/>
<rect x="61.9" y="172.2" width="479.3" height="170.2" fill="none" stroke="#000" stroke-width="1.45"/>
<text x="141.79" y="26.6" text-anchor="middle" font-family="Liberation Sans" font-weight="bold" font-size="14">2</text>
<text x="133.65" y="190.3" text-anchor="middle" font-family="Liberation Sans" font-weight="bold" font-size="14">2</text>
<text x="233.77" y="26.6" text-anchor="middle" font-family="Liberation Sans" font-weight="bold" font-size="14">4</text>
<text x="217.51" y="190.3" text-anchor="middle" font-family="Liberation Sans" font-weight="bold" font-size="14">4</text>
<text x="325.76" y="26.6" text-anchor="middle" font-family="Liberation Sans" font-weight="bold" font-size="14">6</text>
<text x="301.36" y="190.3" text-anchor="middle" font-family="Liberation Sans" font-weight="bold" font-size="14">6</text>
<text x="417.75" y="26.6" text-anchor="middle" font-family="Liberation Sans" font-weight="bold" font-size="14">8</text>
<text x="385.22" y="190.3" text-anchor="middle" font-family="Liberation Sans" font-weight="bold" font-size="14">8</text>
<text x="509.73" y="26.6" text-anchor="middle" font-family="Liberation Sans" font-weight="bold" font-size="14">10</text>
<text x="469.07" y="190.3" text-anchor="middle" font-family="Liberation Sans" font-weight="bold" font-size="14">10</text>
<text x="109.7" y="356.2" text-anchor="middle" font-family="Liberation Sans" font-weight="bold" font-size="14">0.1</text>
<text x="169.6" y="356.2" text-anchor="middle" font-family="Liberation Sans" font-weight="bold" font-size="14">0.2</text>
<text x="229.5" y="356.2" text-anchor="middle" font-family="Liberation Sans" font-weight="bold" font-size="14">0.3</text>
<text x="289.4" y="356.2" text-anchor="middle" font-family="Liberation Sans" font-weight="bold" font-size="14">0.4</text>
<text x="349.3" y="356.2" text-anchor="middle" font-family="Liberation Sans" font-weight="bold" font-size="14">0.5</text>
<text x="409.2" y="356.2" text-anchor="middle" font-family="Liberation Sans" font-weight="bold" font-size="14">0.6</text>
<text x="469.1" y="356.2" text-anchor="middle" font-family="Liberation Sans" font-weight="bold" font-size="14">0.7</text>
<text x="529" y="356.2" text-anchor="middle" font-family="Liberation Sans" font-weight="bold" font-size="14">0.8</text>
<text x="59" y="145.2" text-anchor="end" font-family="Liberation Sans" font-weight="bold" font-size="14">0.8</text>
<text x="59" y="86" text-anchor="end" font-family="Liberation Sans" font-weight="bold" font-size="14">1.0</text>
<text x="59" y="26.8" text-anchor="end" font-family="Liberation Sans" font-weight="bold" font-size="14">1.2</text>
<text x="59" y="336" text-anchor="end" font-family="Liberation Sans" font-weight="bold" font-size="14">0.6</text>
<text x="59" y="293.4" text-anchor="end" font-family="Liberation Sans" font-weight="bold" font-size="14">0.8</text>
<text x="59" y="250.8" text-anchor="end" font-family="Liberation Sans" font-weight="bold" font-size="14">1.0</text>
<text x="59" y="208.2" text-anchor="end" font-family="Liberation Sans" font-weight="bold" font-size="14">1.2</text>
<text x="455.6" y="36.4" font-family="Liberation Sans" font-weight="bold" font-size="16">V</text><line x1="466.2" y1="36.3" x2="469.7" y2="25.1" stroke="#000" stroke-width="1.5"/><text x="470.5" y="36.4" font-family="Liberation Sans" font-weight="bold" font-size="16">v</text><text x="479" y="41.2" font-family="Liberation Sans" font-weight="bold" font-size="11">0</text>
<text x="493" y="200" font-family="Liberation Sans" font-weight="bold" font-size="16">V</text><line x1="503.9" y1="199.6" x2="507.4" y2="188.5" stroke="#000" stroke-width="1.5"/><text x="507.8" y="200" font-family="Liberation Sans" font-weight="bold" font-size="16">v</text><text x="516.3" y="204.8" font-family="Liberation Sans" font-weight="bold" font-size="11">0</text>
<text transform="translate(257.4,375.6) scale(1.0,1)" x="0" y="0" font-family="Liberation Sans" font-weight="bold" font-size="16">(</text>
<text transform="translate(262.2,375.6) scale(1.03,1)" x="0" y="0" font-family="Liberation Sans" font-weight="bold" font-size="16">V</text>
<line x1="274.3" y1="375.3" x2="279.6" y2="363.7" stroke="#000" stroke-width="1.9"/>
<text transform="translate(278.2,375.6) scale(1.0,1)" x="0" y="0" font-family="Liberation Sans" font-weight="bold" font-size="16">v</text>
<text transform="translate(286.6,379.8) scale(1.0,1)" x="0" y="0" font-family="Liberation Sans" font-weight="bold" font-size="11">0</text>
<text transform="translate(291.6,375.6) scale(1.0,1)" x="0" y="0" font-family="Liberation Sans" font-weight="bold" font-size="16">)</text>
<line x1="303.8" y1="375.3" x2="308.8" y2="363.7" stroke="#000" stroke-width="1.9"/>
<text transform="translate(312.2,375.6) scale(1.03,1)" x="0" y="0" font-family="Liberation Sans" font-weight="bold" font-size="16">Z</text>
<text transform="translate(322.4,366.4) scale(1.0,1)" x="0" y="0" font-family="Liberation Sans" font-weight="bold" font-size="10.3">2/3</text>
<text transform="translate(322.3,379.8) scale(0.82,1)" x="0" y="0" font-family="Liberation Sans" font-weight="bold" font-size="12">HI</text>
<text transform="translate(27.1,229.9) rotate(-90) scale(1.13,1.2)" x="0" y="0" font-family="Liberation Sans" font-weight="bold" font-size="15.5">SP</text>
<text transform="translate(32,206.6) rotate(-90) scale(1.0,1.12)" x="0" y="0" font-family="Liberation Sans" font-weight="bold" font-size="10">e</text>
<text transform="translate(16.8,207) rotate(-90) scale(1.07,1.0)" x="0" y="0" font-family="Liberation Sans" font-weight="bold" font-size="10">expt</text>
<line x1="15.6" y1="175.7" x2="26.6" y2="179.5" stroke="#000" stroke-width="1.9"/>
<text transform="translate(27.1,172) rotate(-90) scale(1.13,1.2)" x="0" y="0" font-family="Liberation Sans" font-weight="bold" font-size="15.5">SP</text>
<text transform="translate(32,148.6) rotate(-90) scale(1.0,1.12)" x="0" y="0" font-family="Liberation Sans" font-weight="bold" font-size="10">e</text>
<text transform="translate(18,147.4) rotate(-90) scale(1.02,1.04)" x="0" y="0" font-family="Liberation Sans" font-weight="bold" font-size="10.5">SRIM</text>
<rect x="83.2" y="29.4" width="25.4" height="22.9" fill="#454545"/><rect x="79.2" y="25.4" width="25.2" height="22.8" fill="#fff" stroke="#3c3c3c" stroke-width="1.3"/><text x="92.1" y="42.2" text-anchor="middle" font-family="Liberation Sans" font-weight="bold" font-size="15" fill="#858585">Ag</text>
<rect x="85.2" y="193.7" width="24" height="22.6" fill="#454545"/><rect x="81.2" y="189.7" width="23.8" height="22.5" fill="#fff" stroke="#3c3c3c" stroke-width="1.3"/><text x="93.4" y="206.4" text-anchor="middle" font-family="Liberation Sans" font-weight="bold" font-size="15.6" fill="#9a0000">Xe</text>
<path d="M408,125.6 L412.2,132.4 L403.8,132.4 Z" fill="#f2f07a" stroke="#2a2a2a" stroke-width="1.1" stroke-linejoin="miter"/>
<path d="M408,140.1 L412.3,147.1 L403.7,147.1 Z" fill="#404040" stroke="#404040" stroke-width="0.6" stroke-linejoin="miter"/>
<text transform="translate(424.6,133.8) scale(1.063,1)" x="0" y="0" font-family="Liberation Sans" font-weight="bold" font-size="11">Abdesselam <tspan font-style="italic">et al.</tspan></text>
<text transform="translate(424.6,148.4) scale(1.075,1)" x="0" y="0" font-family="Liberation Sans" font-weight="bold" font-size="11">Lennard <tspan font-style="italic">et al</tspan></text>
<path d="M433.7,258.5 L435.2,261.54 L438.55,262.02 L436.13,264.39 L436.7,267.73 L433.7,266.15 L430.7,267.73 L431.27,264.39 L428.85,262.02 L432.2,261.54 Z" fill="#8000ff"/>
<path d="M433.7,274.1 L437.8,280.9 L429.6,280.9 Z" fill="#404040" stroke="#404040" stroke-width="0.6" stroke-linejoin="miter"/>
<path d="M433.7,289.1 L437.7,295.3 L429.7,295.3 Z" fill="#f4b4ec" stroke="#800080" stroke-width="1.5" stroke-linejoin="miter"/>
<path d="M433.7,303.9 L434.82,306.16 L437.31,306.53 L435.51,308.29 L435.93,310.77 L433.7,309.6 L431.47,310.77 L431.89,308.29 L430.09,306.53 L432.58,306.16 Z" fill="#ffff00" stroke="#9a0000" stroke-width="1.5" stroke-linejoin="miter"/>
<path d="M433.7,327.2 L438.1,320.2 L429.3,320.2 Z" fill="#800080" stroke="#800080" stroke-width="0.6"/>
<text transform="translate(450.4,268) scale(1.072,1)" x="0" y="0" font-family="Liberation Sans" font-weight="bold" font-size="11">Pape <tspan font-style="italic">et al.</tspan></text>
<text transform="translate(450.4,282.3) scale(1.069,1)" x="0" y="0" font-family="Liberation Sans" font-weight="bold" font-size="11">Geissel <tspan font-style="italic">et al.</tspan></text>
<text transform="translate(450.4,297) scale(1.061,1)" x="0" y="0" font-family="Liberation Sans" font-weight="bold" font-size="11">Trzaska <tspan font-style="italic">et al.</tspan></text>
<text transform="translate(450.4,311.6) scale(1.086,1)" x="0" y="0" font-family="Liberation Sans" font-weight="bold" font-size="11">Echler <tspan font-style="italic">et al.</tspan></text>
<text transform="translate(450.4,326.5) scale(1.075,1)" x="0" y="0" font-family="Liberation Sans" font-weight="bold" font-size="11">Lennard <tspan font-style="italic">et al.</tspan></text></svg>
</body></html>
